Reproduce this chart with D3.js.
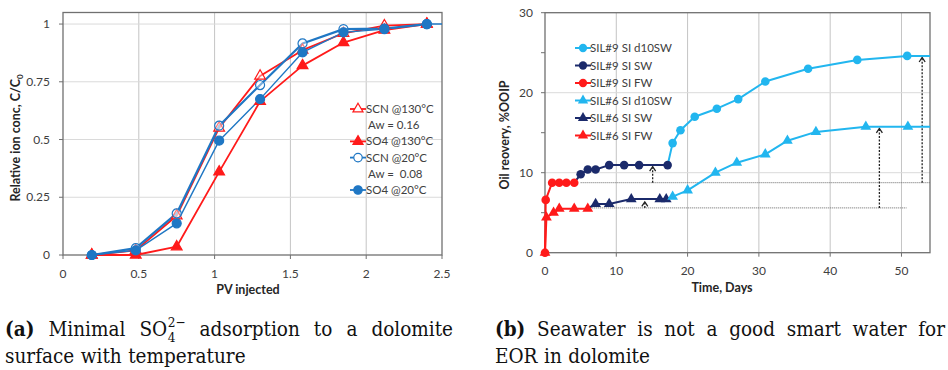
<!DOCTYPE html>
<html lang="en">
<head>
  <meta charset="UTF-8">
  <title>Sulfate adsorption and oil recovery</title>
  <style>
    body { margin: 0; background: #fff; }
    svg { display: block; }
    .tick-label { font-family: Lato, "Open Sans", sans-serif; font-size: 12px; fill: #404040; }
    .axis-title { font-family: Lato, "Open Sans", sans-serif; font-size: 12.5px; font-weight: bold; fill: #262626; }
    .legend-text { font-family: Lato, "Open Sans", sans-serif; font-size: 11.5px; fill: #404040; }
    .caption { font-family: "DejaVu Serif Condensed", "DejaVu Serif", serif; font-stretch: condensed; font-size: 20.5px; fill: #111; }
  </style>
</head>
<body>
  <svg id="fig" width="948" height="370"></svg>

  <script src="https://d3js.org/d3.v7.min.js"></script>
  <script>
    // --- panel (a) data: relative ion concentration vs PV injected ---
    const pvInjected = [0.19, 0.48, 0.75, 1.03, 1.3, 1.58, 1.85, 2.12, 2.4];
    const scn130 = [0, 0.02, 0.17, 0.55, 0.775, 0.887, 0.96, 0.993, 1.0];
    const so4At130 = [0, 0, 0.036, 0.36, 0.665, 0.82, 0.92, 0.974, 1.0];
    const scn20 = [0, 0.03, 0.18, 0.56, 0.736, 0.916, 0.978, 0.98, 1.0];
    const so4At20 = [0, 0.02, 0.137, 0.495, 0.675, 0.877, 0.964, 0.978, 1.0];
    const pvTicks = [0, 0.5, 1, 1.5, 2, 2.5];
    const concTicks = [0, 0.25, 0.5, 0.75, 1];

    // --- panel (b) data: oil recovery vs time ---
    const fw9Days = [0, 0.1, 1, 2, 3, 4.1];
    const fw9Rec = [0, 6.6, 8.75, 8.75, 8.75, 8.75];
    const sw9Days = [5, 6, 7.1, 9, 11.1, 13.2, 17.2];
    const sw9Rec = [9.8, 10.4, 10.4, 10.95, 10.95, 10.95, 10.95];
    const d10sw9Days = [17.9, 19, 21, 24.1, 27.1, 30.9, 36.9, 43.8, 50.8];
    const d10sw9Rec = [13.7, 15.3, 17.0, 18.0, 19.2, 21.4, 23.0, 24.1, 24.6];
    const fw6Days = [0, 0.2, 1.2, 2, 4.1, 6];
    const fw6Rec = [0, 4.4, 5.0, 5.5, 5.5, 5.5];
    const sw6Days = [7.1, 9, 12.1, 16.1, 17];
    const sw6Rec = [6.1, 6.1, 6.7, 6.7, 6.7];
    const d10sw6Days = [17.9, 20, 23.9, 26.9, 30.9, 34, 38, 45, 50.9];
    const d10sw6Rec = [7.0, 7.8, 10.0, 11.25, 12.3, 14.0, 15.1, 15.75, 15.75];
    const dayTicks = [0, 10, 20, 30, 40, 50];
    const recTicks = [0, 10, 20, 30];
    const recMinorTicks = [5, 15, 25];
    // dotted baselines and increment arrows
    const baseLevels = [8.75, 5.6];
    const baseStart = [5, 6];
    const baseEnd = [54, 50.7];
    const arrowDays = [15.1, 14, 46.9, 52.9];
    const arrowFrom = [8.75, 5.6, 5.6, 8.75];
    const arrowTo = [10.75, 6.35, 15.55, 24.4];

    const red = "#ff1a1a", blueA = "#1f77c4", cyan = "#22b6ef", navy = "#1b2a6b";

    const svg = d3.select("#fig");
    const defs = svg.append("defs");
    defs.append("marker")
      .attr("id", "caret").attr("viewBox", "-6 -5 8 10")
      .attr("markerWidth", 8).attr("markerHeight", 10)
      .attr("refX", 0).attr("refY", 0).attr("orient", "auto")
      .attr("markerUnits", "userSpaceOnUse")
      .append("path").attr("d", "M-4.5,-3L0,0L-4.5,3")
      .attr("fill", "none").attr("stroke", "#222").attr("stroke-width", 1.3);

    const sym = (type, size) => d3.symbol().type(type).size(size)();

    function frame(g, x, y, xTicks, yTicks) {
      const [x0, x1] = x.range(), [y0, y1] = y.range();
      g.append("g").selectAll("line").data(xTicks.filter(t => t > x.domain()[0] && t < x.domain()[1]))
        .join("line").attr("x1", d => x(d)).attr("x2", d => x(d)).attr("y1", y0).attr("y2", y1)
        .attr("stroke", "#c4c4c4").attr("stroke-width", 1);
      g.append("g").selectAll("line").data(yTicks.filter(t => t > y.domain()[0] && t < y.domain()[1]))
        .join("line").attr("x1", x0).attr("x2", x1).attr("y1", d => y(d)).attr("y2", d => y(d))
        .attr("stroke", "#dadada").attr("stroke-width", 1);
      g.append("rect").attr("x", x0).attr("y", y1).attr("width", x1 - x0).attr("height", y0 - y1)
        .attr("fill", "none").attr("stroke", "#707070").attr("stroke-width", 1.3);
    }

    // =========== panel (a) ===========
    const ga = svg.append("g");
    const xa = d3.scaleLinear().domain([0, 2.5]).range([63, 442]);
    const ya = d3.scaleLinear().domain([0, 1.05]).range([255, 12.5]);
    frame(ga, xa, ya, pvTicks, concTicks);

    ga.append("g").selectAll("line").data(concTicks).join("line")
      .attr("x1", xa(0) - 4).attr("x2", xa(0)).attr("y1", d => ya(d)).attr("y2", d => ya(d))
      .attr("stroke", "#707070");
    ga.append("g").selectAll("line").data(pvTicks).join("line")
      .attr("x1", d => xa(d)).attr("x2", d => xa(d)).attr("y1", ya(0)).attr("y2", ya(0) + 4)
      .attr("stroke", "#707070");
    ga.append("g").selectAll("text").data(concTicks).join("text")
      .attr("class", "tick-label").attr("x", 50).attr("y", d => ya(d) + 4)
      .attr("text-anchor", "end").text(d => d3.format("~g")(d));
    ga.append("g").selectAll("text").data(pvTicks).join("text")
      .attr("class", "tick-label").attr("x", d => xa(d)).attr("y", 278)
      .attr("text-anchor", "middle").text(d => d3.format("~g")(d));
    ga.append("text").attr("class", "axis-title").attr("x", 248).attr("y", 294)
      .attr("text-anchor", "middle").text("PV injected");
    const yTitleA = ga.append("text").attr("class", "axis-title")
      .attr("transform", "translate(20,138) rotate(-90)").attr("text-anchor", "middle");
    yTitleA.append("tspan").text("Relative ion conc, C/C");
    yTitleA.append("tspan").attr("dy", 3).attr("font-size", "8px").text("0");

    const seriesA = [
      { name: "SCN @130°C", vals: scn130, color: red, shape: d3.symbolTriangle, open: true, w: 1.8 },
      { name: "SO4 @130°C", vals: so4At130, color: red, shape: d3.symbolTriangle, open: false, w: 1.8 },
      { name: "SCN @20°C", vals: scn20, color: blueA, shape: d3.symbolCircle, open: true, w: 2.2 },
      { name: "SO4 @20°C", vals: so4At20, color: blueA, shape: d3.symbolCircle, open: false, w: 1.4 }
    ];
    const lineA = d3.line().x(d => xa(d[0])).y(d => ya(d[1]));
    seriesA.forEach((s, i) => {
      const pts = pvInjected.map((p, j) => [p, s.vals[j]]);
      if (i === seriesA.length - 1) pts.push([xa.domain()[1], s.vals[s.vals.length - 1]]);
      ga.append("path").attr("d", lineA(pts)).attr("fill", "none")
        .attr("stroke", s.color).attr("stroke-width", s.w).attr("stroke-linejoin", "round");
    });
    seriesA.forEach(s => {
      ga.append("g").selectAll("path").data(pvInjected.map((p, j) => [p, s.vals[j]])).join("path")
        .attr("d", sym(s.shape, s.shape === d3.symbolCircle ? 64 : 50))
        .attr("transform", d => `translate(${xa(d[0])},${ya(d[1])})`)
        .attr("fill", s.open ? "#fff" : s.color).attr("fill-opacity", s.open ? 0.4 : 1)
        .attr("stroke", s.color).attr("stroke-width", 1.2);
    });

    // legend (a), with the Aw notes between entries
    const legendA = [
      { text: "SCN @130°C", s: seriesA[0] }, { text: "Aw = 0.16" },
      { text: "SO4 @130°C", s: seriesA[1] }, { text: "SCN @20°C", s: seriesA[2] },
      { text: "Aw =  0.08" }, { text: "SO4 @20°C", s: seriesA[3] }
    ];
    legendA.forEach((e, i) => {
      const y = 109 + i * 16.2;
      if (e.s) {
        ga.append("line").attr("x1", 350).attr("x2", 366).attr("y1", y).attr("y2", y)
          .attr("stroke", e.s.color).attr("stroke-width", 1.8);
        ga.append("path").attr("d", sym(e.s.shape, e.s.shape === d3.symbolCircle ? 56 : 44))
          .attr("transform", `translate(358,${y})`)
          .attr("fill", e.s.open ? "#fff" : e.s.color).attr("stroke", e.s.color).attr("stroke-width", 1.2);
      }
      ga.append("text").attr("class", "legend-text").attr("x", e.s ? 366 : 368).attr("y", y + 4)
        .style("white-space", "pre").text(e.text);
    });

    // =========== panel (b) ===========
    const gb = svg.append("g");
    const xb = d3.scaleLinear().domain([0, 54]).range([545, 930]);
    const yb = d3.scaleLinear().domain([0, 30]).range([252.7, 12.7]);
    frame(gb, xb, yb, dayTicks, recTicks);

    gb.append("g").selectAll("line").data(recTicks.concat(recMinorTicks)).join("line")
      .attr("x1", xb(0) - 4).attr("x2", xb(0)).attr("y1", d => yb(d)).attr("y2", d => yb(d))
      .attr("stroke", "#707070");
    gb.append("g").selectAll("line").data(dayTicks).join("line")
      .attr("x1", d => xb(d)).attr("x2", d => xb(d)).attr("y1", yb(0)).attr("y2", yb(0) + 4)
      .attr("stroke", "#707070");
    gb.append("g").selectAll("text").data(recTicks).join("text")
      .attr("class", "tick-label").attr("x", 533).attr("y", d => yb(d) + 4)
      .attr("text-anchor", "end").text(d => d);
    gb.append("g").selectAll("text").data(dayTicks).join("text")
      .attr("class", "tick-label").attr("x", d => xb(d)).attr("y", 275)
      .attr("text-anchor", "middle").text(d => d);
    gb.append("text").attr("class", "axis-title").attr("x", 722).attr("y", 292)
      .attr("text-anchor", "middle").text("Time, Days");
    gb.append("text").attr("class", "axis-title")
      .attr("transform", "translate(509,135) rotate(-90)").attr("text-anchor", "middle")
      .text("Oil reovery, %OOIP");

    // dotted baselines and arrows
    baseLevels.forEach((lv, i) => {
      gb.append("line").attr("x1", xb(baseStart[i])).attr("x2", xb(baseEnd[i]))
        .attr("y1", yb(lv)).attr("y2", yb(lv))
        .attr("stroke", "#666").attr("stroke-width", 1).attr("stroke-dasharray", "1,1");
    });
    arrowDays.forEach((d, i) => {
      gb.append("line").attr("x1", xb(d)).attr("x2", xb(d))
        .attr("y1", yb(arrowFrom[i])).attr("y2", yb(arrowTo[i]))
        .attr("stroke", "#222").attr("stroke-width", 1.3).attr("stroke-dasharray", "2,1.5")
        .attr("marker-end", "url(#caret)");
    });

    const seriesB = [
      { name: "SIL#9 SI d10SW", days: d10sw9Days, rec: d10sw9Rec, color: cyan, shape: d3.symbolCircle, prev: 1 },
      { name: "SIL#9 SI SW", days: sw9Days, rec: sw9Rec, color: navy, shape: d3.symbolCircle, prev: 2 },
      { name: "SIL#9 SI FW", days: fw9Days, rec: fw9Rec, color: red, shape: d3.symbolCircle, prev: -1 },
      { name: "SIL#6 SI d10SW", days: d10sw6Days, rec: d10sw6Rec, color: cyan, shape: d3.symbolTriangle, prev: 4 },
      { name: "SIL#6 SI SW", days: sw6Days, rec: sw6Rec, color: navy, shape: d3.symbolTriangle, prev: 5 },
      { name: "SIL#6 SI FW", days: fw6Days, rec: fw6Rec, color: red, shape: d3.symbolTriangle, prev: -1 }
    ];
    const lineB = d3.line().x(d => xb(d[0])).y(d => yb(d[1]));
    const drawOrder = [5, 4, 3, 2, 1, 0];
    drawOrder.forEach(i => {
      const s = seriesB[i];
      let pts = s.days.map((d, j) => [d, s.rec[j]]);
      if (s.prev >= 0) {
        const p = seriesB[s.prev];
        pts.unshift([p.days[p.days.length - 1], p.rec[p.rec.length - 1]]);
      }
      if (s.color === cyan) pts.push([xb.domain()[1], s.rec[s.rec.length - 1]]);
      gb.append("path").attr("d", lineB(pts)).attr("fill", "none")
        .attr("stroke", s.color).attr("stroke-width", 2).attr("stroke-linejoin", "round");
    });
    drawOrder.forEach(i => {
      const s = seriesB[i];
      gb.append("g").selectAll("path").data(s.days.map((d, j) => [d, s.rec[j]])).join("path")
        .attr("d", sym(s.shape, s.shape === d3.symbolCircle ? 58 : 50))
        .attr("transform", d => `translate(${xb(d[0])},${yb(d[1])})`)
        .attr("fill", s.color);
    });

    seriesB.forEach((s, i) => {
      const y = 48 + i * 17.5;
      gb.append("line").attr("x1", 575).attr("x2", 591).attr("y1", y).attr("y2", y)
        .attr("stroke", s.color).attr("stroke-width", 2);
      gb.append("path").attr("d", sym(s.shape, s.shape === d3.symbolCircle ? 54 : 46))
        .attr("transform", `translate(583,${y})`).attr("fill", s.color);
      gb.append("text").attr("class", "legend-text").attr("x", 590).attr("y", y + 4).text(s.name);
    });

    // =========== captions ===========
    const cap = svg.append("g").attr("class", "caption");

    // lays out words so the line runs from x0 to x1
    function justified(words, x0, x1, y) {
      const nodes = words.map(w => {
        const g = cap.append("g");
        if (w.sub) {
          const t = g.append("text").attr("y", y).text(w.text);
          const wBase = t.node().getComputedTextLength();
          const sub = g.append("text").attr("x", wBase + 0.5).attr("y", y + 6).attr("font-size", "13.5px").text(w.sub);
          const sup = g.append("text").attr("x", wBase + 0.5).attr("y", y - 9.5).attr("font-size", "13.5px").text(w.sup);
          g.datum(wBase + 0.5 + Math.max(sub.node().getComputedTextLength(), sup.node().getComputedTextLength()));
        } else {
          const t = g.append("text").attr("y", y).attr("font-weight", w.bold ? "bold" : null).text(w.text);
          g.datum(t.node().getComputedTextLength());
        }
        return g;
      });
      const total = d3.sum(nodes, g => g.datum());
      const gap = x1 === null ? 6.5 : (x1 - x0 - total) / (nodes.length - 1);
      let x = x0;
      nodes.forEach(g => { g.attr("transform", `translate(${x},0)`); x += g.datum() + gap; });
    }

    justified([{ text: "(a)", bold: true }, { text: "Minimal" }, { text: "SO", sub: "4", sup: "2−" },
      { text: "adsorption" }, { text: "to" }, { text: "a" }, { text: "dolomite" }], 5, 453, 336);
    justified([{ text: "surface" }, { text: "with" }, { text: "temperature" }], 5, null, 363);
    justified([{ text: "(b)", bold: true }, { text: "Seawater" }, { text: "is" }, { text: "not" }, { text: "a" },
      { text: "good" }, { text: "smart" }, { text: "water" }, { text: "for" }], 495, 945, 336);
    justified([{ text: "EOR" }, { text: "in" }, { text: "dolomite" }], 495, null, 363);
  </script>
</body>
</html>
